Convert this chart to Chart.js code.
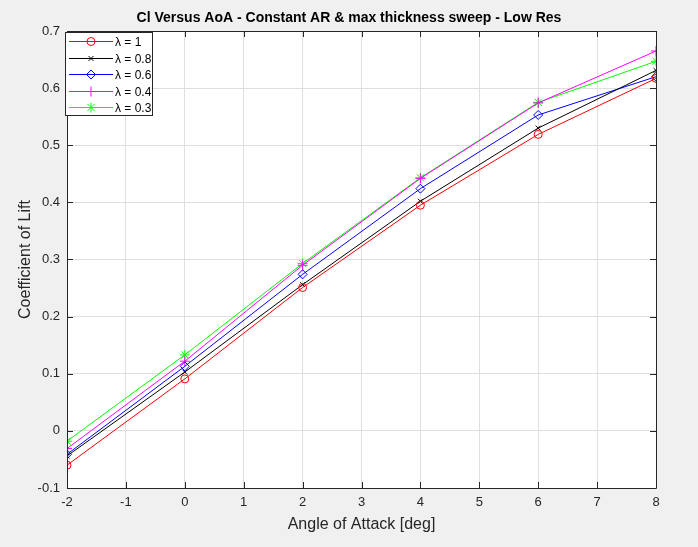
<!DOCTYPE html>
<html>
<head>
<meta charset="utf-8">
<script src="https://cdn.jsdelivr.net/npm/chart.js@4"></script>
<style>
html,body{margin:0;padding:0;background:#f0f0f0;}
#wrap{width:698px;height:547px;}
</style>
</head>
<body>
<div id="wrap"><canvas id="c" width="698" height="547"></canvas></div>
<script>
const aoa = [-2, 0, 2, 4, 6, 8];
const labels = ['λ = 1', 'λ = 0.8', 'λ = 0.6', 'λ = 0.4', 'λ = 0.3'];
const cl_1   = [-0.060, 0.091, 0.251, 0.395, 0.519, 0.617];
const cl_08  = [-0.044, 0.103, 0.256, 0.402, 0.530, 0.631];
const cl_06  = [-0.041, 0.113, 0.274, 0.424, 0.553, 0.620];
const cl_04  = [-0.031, 0.122, 0.290, 0.442, 0.574, 0.665];
const cl_03  = [-0.018, 0.133, 0.293, 0.443, 0.575, 0.647];
const yTicks = [-0.1, 0, 0.1, 0.2, 0.3, 0.4, 0.5, 0.6, 0.7];
const xTicks = [-2, -1, 0, 1, 2, 3, 4, 5, 6, 7, 8];
const titleText = 'Cl Versus AoA - Constant AR & max thickness sweep - Low Res';

const colors = ['#ff0000', '#000000', '#0000ff', '#ff00ff', '#00ff00'];
const styles = ['circle', 'crossRot', 'rectRot', 'cross', 'star'];
const radii  = [4, 3.5, 4.5, 5, 5];
const series = [cl_1, cl_08, cl_06, cl_04, cl_03];

const datasets = series.map((s, i) => ({
  label: labels[i],
  data: aoa.map((x, j) => ({x: x, y: s[j]})),
  borderColor: colors[i],
  backgroundColor: 'rgba(0,0,0,0)',
  pointBorderColor: colors[i],
  pointBackgroundColor: 'rgba(0,0,0,0)',
  pointStyle: styles[i],
  pointRadius: radii[i],
  pointBorderWidth: 1,
  borderWidth: 1,
  tension: 0
}));

const FONT = 'Liberation Sans, Arial, sans-serif';

const framePlugin = {
  id: 'frame',
  beforeDraw(chart) {
    const {ctx, chartArea: a} = chart;
    ctx.save();
    ctx.fillStyle = '#f0f0f0';
    ctx.fillRect(0, 0, chart.width, chart.height);
    ctx.fillStyle = '#ffffff';
    ctx.fillRect(a.left, a.top, a.right - a.left, a.bottom - a.top);
    ctx.restore();
  },
  afterDraw(chart) {
    const {ctx, chartArea: a, scales} = chart;
    ctx.save();
    // title
    ctx.fillStyle = '#000';
    ctx.font = 'bold 14px ' + FONT;
    ctx.textAlign = 'center';
    ctx.textBaseline = 'alphabetic';
    ctx.fillText(titleText, chart.width / 2, 22);

    ctx.strokeStyle = '#262626';
    ctx.lineWidth = 1;
    ctx.beginPath();
    ctx.rect(Math.round(a.left) + 0.5, Math.round(a.top) + 0.5, Math.round(a.right - a.left), Math.round(a.bottom - a.top));
    ctx.stroke();
    // inward ticks
    const tl = 6;
    ctx.beginPath();
    xTicks.forEach(v => {
      const px = Math.round(scales.x.getPixelForValue(v)) + 0.5;
      ctx.moveTo(px, a.bottom); ctx.lineTo(px, a.bottom - tl);
      ctx.moveTo(px, a.top); ctx.lineTo(px, a.top + tl);
    });
    yTicks.forEach(v => {
      const py = Math.round(scales.y.getPixelForValue(v)) + 0.5;
      ctx.moveTo(a.left, py); ctx.lineTo(a.left + tl, py);
      ctx.moveTo(a.right, py); ctx.lineTo(a.right - tl, py);
    });
    ctx.stroke();

    // legend
    const lx = Math.round(a.left) - 2, ly = Math.round(a.top) + 1, lw = 87, lh = 83;
    ctx.fillStyle = '#ffffff';
    ctx.fillRect(lx, ly, lw, lh);
    ctx.strokeStyle = '#262626';
    ctx.strokeRect(lx + 0.5, ly + 0.5, lw, lh);
    ctx.font = '12px ' + FONT;
    ctx.textAlign = 'left';
    ctx.textBaseline = 'middle';
    chart.data.datasets.forEach((d, i) => {
      const yy = Math.round(ly + 9 + i * 16.5) + 0.5;
      ctx.strokeStyle = d.borderColor;
      ctx.lineWidth = 1;
      ctx.beginPath();
      ctx.moveTo(lx + 4, yy);
      ctx.lineTo(lx + 48, yy);
      ctx.stroke();
      ctx.fillStyle = 'rgba(0,0,0,0)';
      ctx.strokeStyle = d.borderColor;
      Chart.helpers.drawPoint(ctx, {
        pointStyle: d.pointStyle, radius: d.pointRadius, borderWidth: 1, rotation: 0
      }, lx + 26, yy);
      ctx.fillStyle = '#000';
      ctx.fillText(d.label, lx + 50, yy + 1);
    });
    ctx.restore();
  }
};

new Chart(document.getElementById('c'), {
  type: 'line',
  data: {datasets: datasets},
  options: {
    responsive: false,
    animation: false,
    layout: {padding: {left: 16, right: 42, top: 31, bottom: 13}},
    plugins: {
      legend: {display: false},
      tooltip: {enabled: false},
      title: {display: false}
    },
    scales: {
      x: {
        type: 'linear',
        min: -2, max: 8,
        afterBuildTicks(s) { s.ticks = xTicks.map(v => ({value: v})); },
        afterFit(s) { s.height = 46; },
        grid: {color: '#dfdfdf', drawTicks: false, lineWidth: 1},
        border: {display: false},
        ticks: {color: '#262626', font: {family: FONT, size: 13}, padding: 7, maxRotation: 0,
          callback: v => String(v)},
        title: {display: true, text: 'Angle of Attack [deg]', color: '#262626',
          font: {family: FONT, size: 16}, padding: {top: 3, bottom: 0}}
      },
      y: {
        type: 'linear',
        min: -0.1, max: 0.7,
        afterBuildTicks(s) { s.ticks = yTicks.map(v => ({value: v})); },
        afterFit(s) { s.width = 51; },
        grid: {color: '#dfdfdf', drawTicks: false, lineWidth: 1},
        border: {display: false},
        ticks: {color: '#262626', font: {family: FONT, size: 13}, padding: 7,
          callback: v => String(Number(v.toFixed(1)))},
        title: {display: true, text: 'Coefficient of Lift', color: '#262626',
          font: {family: FONT, size: 16}, padding: {top: 0, bottom: 6}}
      }
    }
  },
  plugins: [framePlugin]
});
</script>
</body>
</html>
